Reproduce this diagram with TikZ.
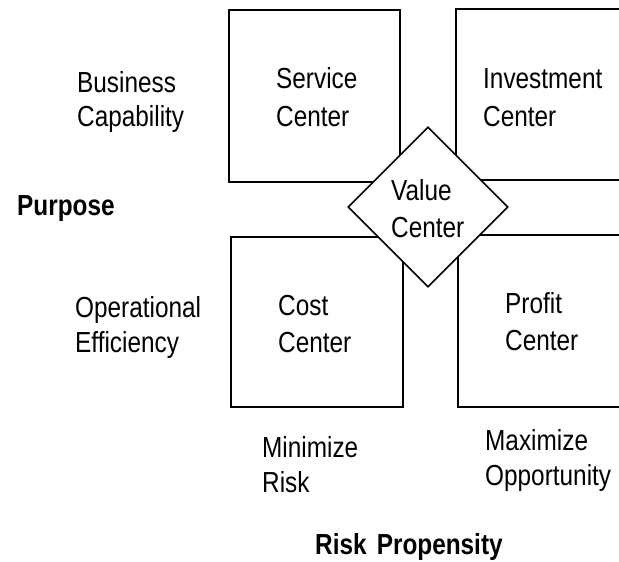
\documentclass[tikz,border=0pt]{standalone}
\usepackage{fontspec}
\setmainfont[FakeStretch=0.84]{Liberation Sans}
\usetikzlibrary{shapes.geometric}
\tikzset{
  box/.style={draw, line width=1.6pt, rectangle, inner sep=0pt},
  lbl/.style={anchor=base west, inner sep=0pt, font=\fontsize{29}{35}\selectfont},
  hd/.style={anchor=base west, inner sep=0pt, font=\fontsize{29}{35}\selectfont\bfseries},
}
\begin{document}
\begin{tikzpicture}[x=1pt,y=-1pt]
\useasboundingbox (0,0) rectangle (619,562);
\clip (0,0) rectangle (619,562);
% boxes
\node[box, minimum width=171pt, minimum height=172pt] (svc) at (314.5,96) {};
\node[box, minimum width=184pt, minimum height=171pt] (inv) at (548,94.5) {};
\node[box, minimum width=172pt, minimum height=170pt] (cost) at (317,322) {};
\node[box, minimum width=182pt, minimum height=172pt] (prof) at (549,321) {};
\node[draw, diamond, fill=white, line width=1.6pt, inner sep=0pt, minimum width=160pt, minimum height=160pt, aspect=1] (val) at (428,207) {};
% box texts
\node[lbl] (svc1) at (276,88) {Service};
\node[lbl] (svc2) at (276,126) {Center};
\node[lbl] (inv1) at (483,88) {Investment};
\node[lbl] (inv2) at (483,126) {Center};
\node[lbl] (val1) at (391,200) {Value};
\node[lbl] (val2) at (391,237) {Center};
\node[lbl] (cost1) at (278,315) {Cost};
\node[lbl] (cost2) at (278,352) {Center};
\node[lbl] (prof1) at (505,313) {Profit};
\node[lbl] (prof2) at (505,350) {Center};
% side labels
\node[lbl] (bc1) at (77,92) {Business};
\node[lbl] (bc2) at (77,126) {Capability};
\node[hd] (purp) at (17,215) {Purpose};
\node[lbl] (oe1) at (75,317) {Operational};
\node[lbl] (oe2) at (75,352) {Efficiency};
\node[lbl] (mr1) at (262,457) {Minimize};
\node[lbl] (mr2) at (262,492) {Risk};
\node[lbl] (mo1) at (485,450) {Maximize};
\node[lbl] (mo2) at (485,485) {Opportunity};
\node[hd] (rp) at (315,554) {Risk\hspace{0.35em}Propensity};
\end{tikzpicture}
\end{document}
